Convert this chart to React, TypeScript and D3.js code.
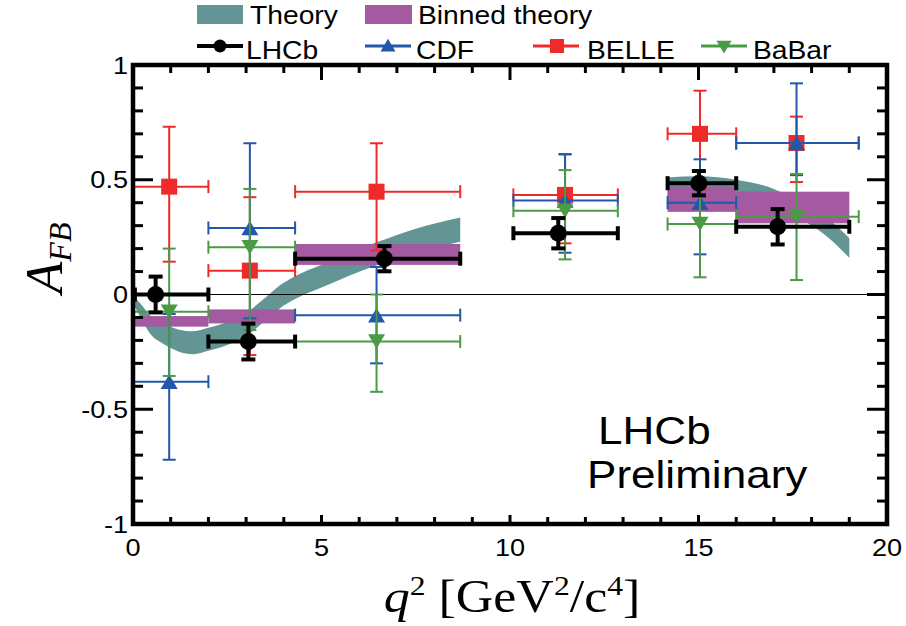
import React from "react";
import * as d3 from "d3";

// Forward-backward asymmetry A_FB versus q^2, LHCb compared with other experiments

const WIDTH = 906;
const HEIGHT = 626;

// Axes
const xTickValues = [0, 5, 10, 15, 20];
const xTickLabels = ["0", "5", "10", "15", "20"];
const yTickValues = [1, 0.5, 0, -0.5, -1];
const yTickLabels = ["1", "0.5", "0", "-0.5", "-1"];

// SM theory band, low-q2 region
const theoryLowQ2 = [0.05, 0.2, 0.45, 0.8, 1.2, 1.6, 2.0, 2.5, 3.0, 3.5, 3.9, 4.3, 5.0, 5.7, 6.5, 7.5, 8.68];
const theoryLowLower = [-0.055, -0.1, -0.17, -0.215, -0.248, -0.26, -0.245, -0.22, -0.18, -0.115, -0.06, -0.02, 0.03, 0.08, 0.13, 0.183, 0.23];
const theoryLowUpper = [-0.015, -0.04, -0.09, -0.125, -0.152, -0.16, -0.145, -0.12, -0.08, -0.015, 0.04, 0.08, 0.13, 0.18, 0.23, 0.287, 0.336];

// SM theory band, high-q2 region
const theoryHighQ2 = [14.18, 15, 16, 17, 17.9, 18.5, 19];
const theoryHighLower = [0.41, 0.425, 0.42, 0.38, 0.31, 0.24, 0.16];
const theoryHighUpper = [0.51, 0.515, 0.5, 0.46, 0.38, 0.32, 0.245];

// Binned theory
const binLo = [0.05, 2, 4.3, 14.18, 16];
const binHi = [2, 4.3, 8.68, 16, 19];
const binYLo = [-0.14, -0.126, 0.129, 0.36, 0.31];
const binYHi = [-0.094, -0.065, 0.22, 0.47, 0.448];

// LHCb
const lhcbX = [0.6, 3.06, 6.67, 11.28, 15.01, 17.1];
const lhcbY = [0.0, -0.205, 0.156, 0.267, 0.485, 0.295];
const lhcbErr = [0.078, 0.078, 0.055, 0.066, 0.053, 0.077];
const lhcbXLo = [0.05, 2, 4.3, 10.09, 14.18, 16];
const lhcbXHi = [2, 4.3, 8.68, 12.86, 16, 19];

// Other experiments share bins
const expX = [0.96, 3.1, 6.46, 11.46, 15.04, 17.6];
const expXLo = [0, 2, 4.3, 10.09, 14.18, 16];
const expXHi = [2, 4.3, 8.68, 12.86, 16, 19.25];

// CDF
const cdfY = [-0.38, 0.29, -0.09, 0.41, 0.4, 0.66];
const cdfHi = [-0.085, 0.659, 0.12, 0.612, 0.589, 0.92];
const cdfLo = [-0.72, -0.104, -0.3, 0.182, 0.175, 0.52];

// BELLE
const belleY = [0.47, 0.104, 0.448, 0.434, 0.7, 0.66];
const belleHi = [0.731, 0.424, 0.659, 0.61, 0.888, 0.775];
const belleLo = [0.143, -0.264, 0.191, 0.223, 0.458, 0.49];

// BaBar
const babarY = [-0.075, 0.206, -0.205, 0.365, 0.307, 0.339];
const babarHi = [0.2, 0.46, 0.0, 0.542, 0.43, 0.525];
const babarLo = [-0.355, -0.155, -0.424, 0.153, 0.075, 0.063];

const COLORS = {
  theory: "#629593",
  binned: "#a35aa0",
  lhcb: "#000000",
  cdf: "#2357a8",
  belle: "#ee2a2a",
  babar: "#4a9a46",
};

const SANS = "'Liberation Sans', Arial, sans-serif";
const SERIF = "'Liberation Serif', 'Times New Roman', serif";
// glyphs in this figure are set slightly wide
const STRETCH = 1.13;

const margin = { left: 133, right: 887, top: 65, bottom: 524 };
const x = d3.scaleLinear().domain([0, 20]).range([margin.left, margin.right]);
const y = d3.scaleLinear().domain([-1, 1]).range([margin.bottom, margin.top]);

type MarkerKind = "circle" | "square" | "up" | "down";

function Marker({ kind, cx, cy, size, color }: { kind: MarkerKind; cx: number; cy: number; size: number; color: string }) {
  if (kind === "circle") return <circle cx={cx} cy={cy} r={size / 2} fill={color} />;
  if (kind === "square")
    return <rect x={cx - size / 2} y={cy - size / 2} width={size} height={size} fill={color} />;
  const h = size * 0.85;
  const w = size;
  if (kind === "up")
    return <path d={`M${cx - w / 2},${cy + h / 2}L${cx + w / 2},${cy + h / 2}L${cx},${cy - h / 2}Z`} fill={color} />;
  return <path d={`M${cx - w / 2},${cy - h / 2}L${cx + w / 2},${cy - h / 2}L${cx},${cy + h / 2}Z`} fill={color} />;
}

function WideText({ x: tx, y: ty, anchor = "start", children, ...rest }: any) {
  return (
    <text transform={`translate(${tx},${ty}) scale(${STRETCH},1)`} textAnchor={anchor} {...rest}>
      {children}
    </text>
  );
}

function Series({
  xs, ys, lo, hi, xlo, xhi, color, kind, size, lw, cap,
}: {
  xs: number[]; ys: number[]; lo: number[]; hi: number[]; xlo: number[]; xhi: number[];
  color: string; kind: MarkerKind; size: number; lw: number; cap: number;
}) {
  return (
    <g>
      {xs.map((xv, i) => {
        const cx = x(xv);
        const cy = y(ys[i]);
        const x0 = x(xlo[i]);
        const x1 = x(xhi[i]);
        const yt = y(hi[i]);
        const yb = y(lo[i]);
        return (
          <g key={i} stroke={color} strokeWidth={lw} fill="none">
            <line x1={x0} x2={x1} y1={cy} y2={cy} />
            <line x1={cx} x2={cx} y1={yt} y2={yb} />
            <line x1={x0} x2={x0} y1={cy - cap} y2={cy + cap} />
            <line x1={x1} x2={x1} y1={cy - cap} y2={cy + cap} />
            <line x1={cx - cap} x2={cx + cap} y1={yt} y2={yt} />
            <line x1={cx - cap} x2={cx + cap} y1={yb} y2={yb} />
          </g>
        );
      })}
      {xs.map((xv, i) => (
        <Marker key={"m" + i} kind={kind} cx={x(xv)} cy={y(ys[i])} size={size} color={color} />
      ))}
    </g>
  );
}

function band(q: number[], lo: number[], hi: number[]) {
  const pts = q.map((v, i) => ({ q: v, lo: lo[i], hi: hi[i] }));
  return d3
    .area<{ q: number; lo: number; hi: number }>()
    .x((d) => x(d.q))
    .y0((d) => y(d.lo))
    .y1((d) => y(d.hi))
    .curve(d3.curveMonotoneX)(pts) as string;
}

export default function App() {
  const xMinor = d3.range(0, 21, 1);
  const yMinor = d3.range(-10, 11, 1).map((v) => v / 10);

  const lhcbLo = lhcbY.map((v, i) => v - lhcbErr[i]);
  const lhcbHi = lhcbY.map((v, i) => v + lhcbErr[i]);

  return (
    <svg width={WIDTH} height={HEIGHT} style={{ display: "block", position: "absolute", left: 0, top: 0 }}>
      <rect width={WIDTH} height={HEIGHT} fill="#fff" />

      {/* theory band */}
      <path d={band(theoryLowQ2, theoryLowLower, theoryLowUpper)} fill={COLORS.theory} />
      <path d={band(theoryHighQ2, theoryHighLower, theoryHighUpper)} fill={COLORS.theory} />

      {/* binned theory */}
      {binLo.map((b, i) => (
        <rect key={i} x={x(b)} width={x(binHi[i]) - x(b)} y={y(binYHi[i])} height={y(binYLo[i]) - y(binYHi[i])} fill={COLORS.binned} />
      ))}

      {/* zero line */}
      <line x1={x(0)} x2={x(20)} y1={y(0)} y2={y(0)} stroke="#000" strokeWidth={1.2} />

      <Series xs={expX} ys={belleY} lo={belleLo} hi={belleHi} xlo={expXLo} xhi={expXHi} color={COLORS.belle} kind="square" size={16} lw={2} cap={6.5} />
      <Series xs={expX} ys={cdfY} lo={cdfLo} hi={cdfHi} xlo={expXLo} xhi={expXHi} color={COLORS.cdf} kind="up" size={17} lw={2} cap={6.5} />
      <Series xs={expX} ys={babarY} lo={babarLo} hi={babarHi} xlo={expXLo} xhi={expXHi} color={COLORS.babar} kind="down" size={17} lw={2} cap={6.5} />
      <Series xs={lhcbX} ys={lhcbY} lo={lhcbLo} hi={lhcbHi} xlo={lhcbXLo} xhi={lhcbXHi} color={COLORS.lhcb} kind="circle" size={17} lw={4} cap={7} />

      {/* ticks */}
      <g stroke="#000" strokeWidth={3}>
        {xMinor.map((v) => {
          const major = v % 5 === 0;
          return (
            <g key={"xt" + v}>
              <line x1={x(v)} x2={x(v)} y1={margin.bottom} y2={margin.bottom - (major ? 9 : 7)} />
              <line x1={x(v)} x2={x(v)} y1={margin.top} y2={margin.top + (major ? 15 : 8)} />
            </g>
          );
        })}
        {yMinor.map((v) => {
          const major = Math.abs((v * 10) % 5) < 1e-9;
          const len = major ? 20 : 10;
          return (
            <g key={"yt" + v}>
              <line x1={margin.left} x2={margin.left + len} y1={y(v)} y2={y(v)} />
              <line x1={margin.right} x2={margin.right - len} y1={y(v)} y2={y(v)} />
            </g>
          );
        })}
      </g>

      {/* frame */}
      <rect x={margin.left} y={margin.top} width={margin.right - margin.left} height={margin.bottom - margin.top} fill="none" stroke="#000" strokeWidth={4.5} />

      {/* tick labels */}
      <g fontFamily={SANS} fontSize={24} fill="#000">
        {yTickValues.map((v, i) => (
          <WideText key={"yl" + i} x={128} y={y(v) + 8.5} anchor="end">{yTickLabels[i]}</WideText>
        ))}
        {xTickValues.map((v, i) => (
          <WideText key={"xl" + i} x={x(v)} y={556} anchor="middle">{xTickLabels[i]}</WideText>
        ))}
      </g>

      {/* axis titles */}
      <text transform="translate(62,258) rotate(-90)" textAnchor="middle" fontFamily={SERIF} fill="#000">
        <tspan fontStyle="italic" fontSize={52}>A</tspan>
        <tspan fontStyle="italic" fontSize={32} dy={9}>FB</tspan>
      </text>
      <WideText x={512} y={612} anchor="middle" fontFamily={SERIF} fontSize={46} fill="#000">
        <tspan fontStyle="italic">q</tspan>
        <tspan fontSize={28} dy={-17}>2</tspan>
        <tspan dy={17}> [GeV</tspan>
        <tspan fontSize={28} dy={-17}>2</tspan>
        <tspan dy={17}>/c</tspan>
        <tspan fontSize={28} dy={-17}>4</tspan>
        <tspan dy={17}>]</tspan>
      </WideText>

      {/* label */}
      <g fontFamily={SANS} fontSize={39} fill="#000">
        <WideText x={598} y={444}>LHCb</WideText>
        <WideText x={587} y={488}>Preliminary</WideText>
      </g>

      {/* legend */}
      <g fontFamily={SANS} fontSize={25} fill="#000">
        <rect x={197} y={5} width={46} height={19} fill={COLORS.theory} />
        <WideText x={250} y={24}>Theory</WideText>
        <rect x={365} y={5} width={47} height={19} fill={COLORS.binned} />
        <WideText x={418} y={24}>Binned theory</WideText>

        <line x1={197} x2={243} y1={46} y2={46} stroke={COLORS.lhcb} strokeWidth={4} />
        <Marker kind="circle" cx={220} cy={46} size={13} color={COLORS.lhcb} />
        <WideText x={246} y={59}>LHCb</WideText>

        <line x1={365} x2={411} y1={46} y2={46} stroke={COLORS.cdf} strokeWidth={3} />
        <Marker kind="up" cx={388} cy={45} size={15} color={COLORS.cdf} />
        <WideText x={416} y={59}>CDF</WideText>

        <line x1={533} x2={579} y1={46} y2={46} stroke={COLORS.belle} strokeWidth={3} />
        <Marker kind="square" cx={557} cy={46} size={14} color={COLORS.belle} />
        <WideText x={587} y={59}>BELLE</WideText>

        <line x1={701} x2={747} y1={46} y2={46} stroke={COLORS.babar} strokeWidth={3} />
        <Marker kind="down" cx={724} cy={47} size={15} color={COLORS.babar} />
        <WideText x={753} y={59}>BaBar</WideText>
      </g>
    </svg>
  );
}
